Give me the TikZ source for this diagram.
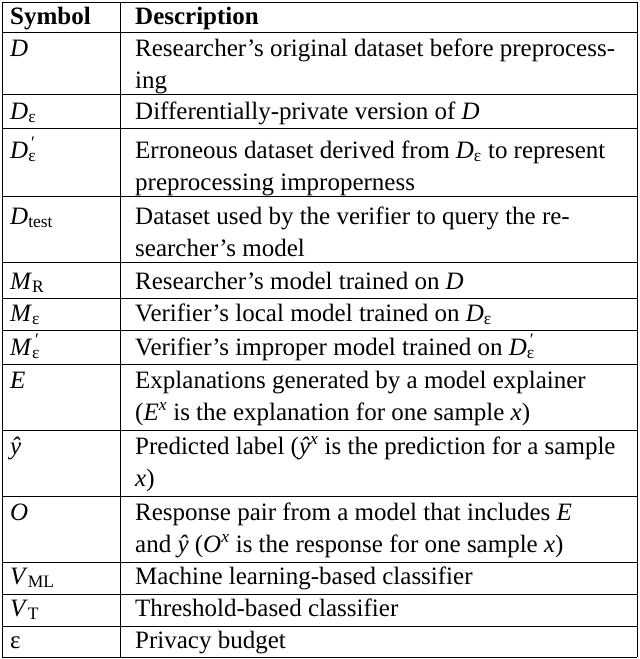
\documentclass[tikz,border=0pt]{standalone}
\usepackage{fontspec}
\setmainfont{Liberation Serif}
\newcommand{\Sb}[1]{\textsubscript{#1}}
\newcommand{\Dp}{\textit{D}\rlap{\textsubscript{ε}}\textsuperscript{\,′}\hspace{0.3em}}
\newcommand{\Mp}{\textit{M}\rlap{\textsubscript{ε}}\textsuperscript{\,′}\hspace{0.3em}}
\begin{document}
\begin{tikzpicture}[x=1pt,y=-1pt,
  txt/.style={anchor=base west,inner sep=0pt,font=\fontsize{25}{32}\selectfont},
  rule/.style={line width=0.9pt}]
\useasboundingbox (0,0) rectangle (640,659);
\def\ys{2,32,94,128,196,262,298,330,364,430,496,562,594,626,657}
\foreach \y in \ys {\draw[rule] (2,\y) -- (637,\y);}
\draw[rule] (2,2) -- (2,657);
\draw[rule] (120,2) -- (120,657);
\draw[rule] (637,2) -- (637,657);
\node[txt] (h1) at (10,24) {\textbf{Symbol}};
\node[txt] (h2) at (135,24) {\textbf{Description}};
% rows
\node[txt] (s1) at (10,56) {\textit{D}};
\node[txt] (d1a) at (135,56) {Researcher’s original dataset before preprocess-};
\node[txt] (d1b) at (135,88) {ing};
\node[txt] (s2) at (10,119) {\textit{D}\Sb{ε}};
\node[txt] (d2) at (135,119) {Differentially-private version of \textit{D}};
\node[txt] (s3) at (10,158) {\Dp};
\node[txt] (d3a) at (135,158) {Erroneous dataset derived from \textit{D}\Sb{ε} to represent};
\node[txt] (d3b) at (135,190) {preprocessing improperness};
\node[txt] (s4) at (10,224) {\textit{D}\Sb{test}};
\node[txt] (d4a) at (135,224) {Dataset used by the verifier to query the re-};
\node[txt] (d4b) at (135,256) {searcher’s model};
\node[txt] (s5) at (10,289) {\textit{M}\Sb{R}};
\node[txt] (d5) at (135,289) {Researcher’s model trained on \textit{D}};
\node[txt] (s6) at (10,321) {\textit{M}\Sb{ε}};
\node[txt] (d6) at (135,321) {Verifier’s local model trained on \textit{D}\Sb{ε}};
\node[txt] (s7) at (10,355) {\Mp};
\node[txt] (d7) at (135,355) {Verifier’s improper model trained on \Dp};
\node[txt] (s8) at (10,388) {\textit{E}};
\node[txt] (d8a) at (135,388) {Explanations generated by a model explainer};
\node[txt] (d8b) at (135,420) {(\textit{E}\textsuperscript{\textit{x}} is the explanation for one sample \textit{x})};
\node[txt] (s9) at (10,454) {\textit{ŷ}};
\node[txt] (d9a) at (135,454) {Predicted label (\textit{ŷ}\textsuperscript{\textit{x}} is the prediction for a sample};
\node[txt] (d9b) at (135,486) {\textit{x})};
\node[txt] (s10) at (10,520) {\textit{O}};
\node[txt] (d10a) at (135,520) {Response pair from a model that includes \textit{E}};
\node[txt] (d10b) at (135,552) {and \textit{ŷ} (\textit{O}\textsuperscript{\textit{x}} is the response for one sample \textit{x})};
\node[txt] (s11) at (10,584) {\textit{V}\Sb{ML}};
\node[txt] (d11) at (135,584) {Machine learning-based classifier};
\node[txt] (s12) at (10,616) {\textit{V}\Sb{T}};
\node[txt] (d12) at (135,616) {Threshold-based classifier};
\node[txt] (s13) at (10,648) {ε};
\node[txt] (d13) at (135,648) {Privacy budget};
\end{tikzpicture}
\end{document}
